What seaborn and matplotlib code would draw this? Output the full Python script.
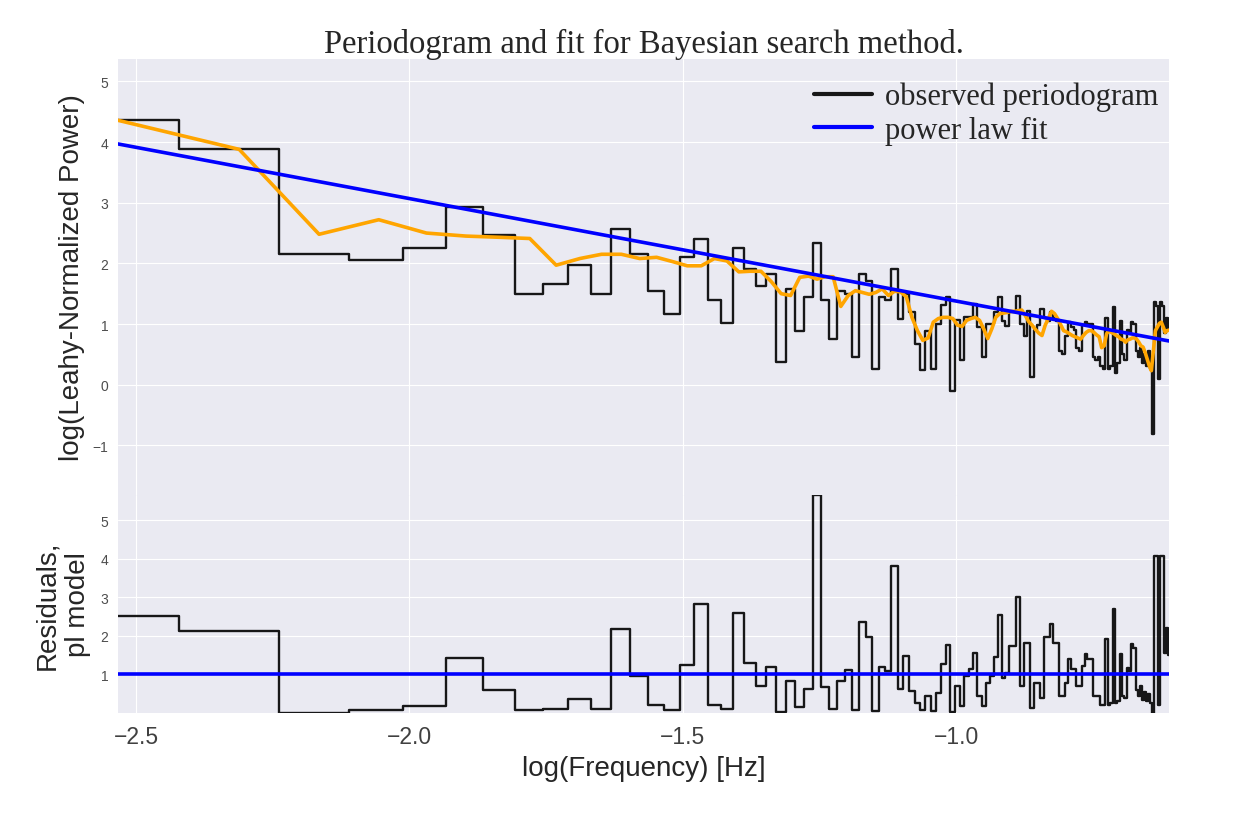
import numpy as np
import matplotlib
matplotlib.use("Agg")
import matplotlib.pyplot as plt
import seaborn as sns

# frequency grid (bin centres, in units of the frequency resolution)
df = 1.0 / 512
freq_bins = np.arange(1, 126) + 0.5

# log Leahy-normalised power
log_power = [
    4.37, 3.88, 2.16, 2.05, 2.25, 2.93, 2.47, 1.50, 1.66, 1.97,
    1.50, 2.56, 2.15, 1.55, 1.17, 2.10, 2.41, 1.39, 1.01, 2.25,
    1.91, 1.62, 1.82, 0.38, 1.58, 0.89, 1.44, 2.34, 1.39, 0.76,
    1.55, 1.50, 0.46, 1.82, 1.71, 0.26, 1.44, 1.40, 1.91, 1.09,
    1.50, 1.20, 0.67, 0.24, 0.89, 0.26, 1.00, 1.31, 1.44, -0.10,
    1.06, 0.40, 1.11, 1.11, 1.33, 0.95, 0.45, 1.00, 1.00, 1.20,
    1.44, 1.05, 0.97, 1.20, 1.20, 1.47, 1.00, 0.81, 1.22, 0.12,
    0.90, 0.99, 1.25, 1.10, 1.05, 1.20, 1.10, 1.05, 0.56, 0.50,
    0.80, 1.03, 0.95, 0.90, 0.60, 0.55, 0.99, 1.03, 1.00, 1.00,
    0.45, 0.40, 0.45, 0.30, 0.25, 1.10, 0.25, 0.30, 1.28, 0.20,
    0.35, 1.05, 0.50, 0.40, 0.90, 0.85, 1.03, 1.00, 0.55, 0.45,
    0.60, 0.35, 0.50, 0.30, 0.55, 0.25, -0.82, 1.36, 1.30, 0.10,
    1.36, 1.30, 0.85, 1.10, 0.90,
]

# smoothed periodogram (orange curve)
smoothed = [
    4.36, 3.88, 2.48, 2.72, 2.50, 2.45, 2.43, 2.41, 1.97, 2.08,
    2.15, 2.15, 2.08, 2.10, 2.03, 1.96, 1.96, 2.08, 2.04, 1.86,
    1.87, 1.87, 1.70, 1.50, 1.47, 1.77, 1.79, 1.74, 1.78, 1.78,
    1.29, 1.47, 1.55, 1.52, 1.49, 1.52, 1.58, 1.47, 1.54, 1.53,
    1.45, 1.11, 0.89, 0.73, 0.77, 1.03, 1.09, 1.11, 1.11, 1.09,
    0.98, 0.96, 1.06, 1.09, 1.11, 1.06, 0.92, 0.76, 0.92, 1.11,
    1.17, 1.18, 1.19, 1.21, 1.21, 1.22, 1.23, 1.14, 1.04, 0.98,
    0.91, 0.85, 0.81, 0.98, 1.09, 1.21, 1.17, 1.09, 0.99, 0.89,
    0.87, 0.84, 0.81, 0.79, 0.77, 0.75, 0.81, 0.86, 0.89, 0.89,
    0.86, 0.82, 0.79, 0.61, 0.64, 0.84, 0.89, 0.86, 0.84, 0.81,
    0.79, 0.75, 0.74, 0.70, 0.74, 0.75, 0.77, 0.77, 0.75, 0.70,
    0.64, 0.62, 0.53, 0.42, 0.31, 0.23, 0.56, 0.89, 0.95, 1.01,
    1.03, 0.95, 0.86, 0.89, 0.90,
]

# power law fit at the first and last frequency
pl_fit = [3.97, 0.72]

# residuals against the power law model
residuals = [
    2.52, 2.13, 0.00, 0.07, 0.17, 1.43, 0.59, 0.09, 0.11, 0.375,
    0.11, 2.17, 0.96, 0.22, 0.09, 1.24, 2.82, 0.22, 0.11, 2.59,
    1.30, 0.70, 1.19, 0.03, 0.83, 0.15, 0.63, 5.66, 0.68, 0.11,
    0.83, 1.11, 0.07, 2.35, 1.96, 0.04, 1.19, 1.09, 3.82, 0.63,
    1.48, 0.57, 0.26, 0.07, 0.43, 0.04, 0.52, 1.26, 1.76, 0.02,
    0.71, 0.17, 0.96, 1.13, 1.57, 0.43, 0.17, 0.78, 0.96, 1.46,
    2.54, 0.91, 1.04, 1.74, 1.74, 3.02, 0.70, 1.81, 1.81, 0.13,
    0.78, 0.78, 0.39, 1.96, 1.96, 2.30, 1.83, 1.83, 0.43, 0.43,
    0.78, 1.41, 1.13, 1.13, 0.71, 0.71, 1.23, 1.52, 1.39, 1.39,
    0.43, 0.43, 0.43, 0.22, 0.22, 1.93, 0.22, 0.25, 2.69, 0.26,
    0.30, 1.52, 0.45, 0.40, 1.17, 1.10, 1.79, 1.70, 0.60, 0.45,
    0.70, 0.35, 0.55, 0.30, 0.50, 0.25, 0.00, 4.08, 4.08, 0.22,
    4.08, 4.08, 1.55, 2.20, 1.50,
]

log_freq = np.log10(freq_bins * df)
log_power = np.array(log_power)
residuals = np.array(residuals)

sns.set_style("darkgrid")
plt.rcParams["font.family"] = ["Liberation Sans", "DejaVu Sans"]
serif = ["Liberation Serif", "DejaVu Serif"]

fig, (ax1, ax2) = plt.subplots(
    2, 1, sharex=True, figsize=(12.41, 8.28), dpi=100,
    gridspec_kw={"height_ratios": [2, 1], "hspace": 0},
)
fig.subplots_adjust(left=0.095, right=0.942, top=0.9275, bottom=0.1377)

# top panel
sns.lineplot(x=log_freq, y=log_power, ax=ax1, color="black", lw=1.7,
             alpha=0.9, drawstyle="steps-mid", label="observed periodogram")
sns.lineplot(x=log_freq, y=smoothed, ax=ax1, color="orange", lw=2.6)
sns.lineplot(x=[log_freq[0], log_freq[-1]], y=pl_fit, ax=ax1, color="blue",
             lw=2.6, label="power law fit")
ax1.set_ylim(log_power.min() - 1, log_power.max() + 1)
ax1.set_xlim(log_freq[0], log_freq[-1])
ax1.set_ylabel("log(Leahy-Normalized Power)", fontsize=20)
ax1.set_title("Periodogram and fit for Bayesian search method.",
              family=serif, fontsize=23.5, pad=4)
ax1.legend(loc="upper right", frameon=False, bbox_to_anchor=(1.012, 1.0),
           prop={"family": serif, "size": 22},
           handlelength=1.9, handletextpad=0.45, labelspacing=0.15,
           borderaxespad=0.35)
for line in ax1.get_legend().get_lines():
    line.set_linewidth(3)

# bottom panel
sns.lineplot(x=log_freq, y=residuals, ax=ax2, color="black", lw=1.7,
             alpha=0.9, drawstyle="steps-mid")
ax2.axhline(1, color="blue", lw=2.6)
ax2.set_ylim(residuals.min(), residuals.max())
ax2.set_yticks([1, 2, 3, 4, 5])
ax2.set_ylabel("Residuals,\npl model", fontsize=20)
ax2.set_xlabel("log(Frequency) [Hz]", fontsize=20, labelpad=5)
ax2.set_xticks([-2.5, -2.0, -1.5, -1.0])
ax2.xaxis.set_major_formatter(
    matplotlib.ticker.FuncFormatter(lambda v, p: f"{v:.1f}".replace("-", "\u2212")))

for ax in (ax1, ax2):
    ax.tick_params(axis="y", labelsize=10, colors=".3")
    ax.tick_params(axis="x", labelsize=16.5, colors=".25", pad=5.5)
    for sp in ax.spines.values():
        sp.set_visible(False)
ax1.yaxis.set_label_coords(-0.031, 0.5)
ax2.yaxis.set_label_coords(-0.026, 0.5)

fig.savefig("out.png", dpi=100)
